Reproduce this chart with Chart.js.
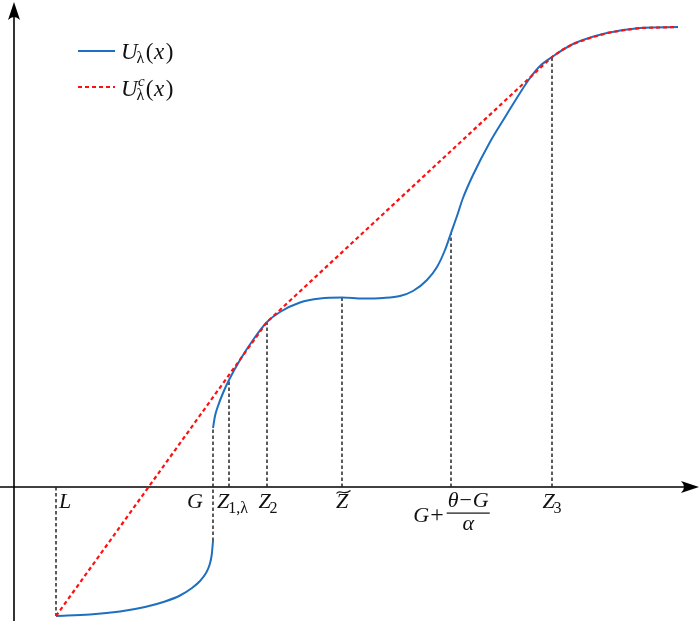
<!DOCTYPE html>
<html><head><meta charset="utf-8">
<script src="https://cdn.jsdelivr.net/npm/chart.js@4"></script>
<style>html,body{margin:0;padding:0;background:#fff}#c{display:block}</style>
</head><body>
<canvas id="c" width="700" height="621"></canvas>
<script>
// ---- data (x in horizontal units, y measured from the x-axis) ----
const lowerX = [56, 90, 120, 145, 165, 180, 192, 200, 206, 209.5, 211.7, 213];
const lowerY = [-129, -127.5, -124.5, -120, -114.5, -108.5, -101, -94, -86, -78, -68, -54];
const upperX = [213, 215, 218, 223, 229, 240, 253, 267, 280, 300, 320, 342, 363, 383, 400, 413, 427, 437, 445, 451, 457, 463, 473, 490, 507, 520, 530, 540, 552, 573, 607, 640, 678];
const upperY = [59, 71, 81, 94, 107, 127, 147, 165, 175, 184.5, 188.5, 189.5, 188.5, 189, 191, 196, 207, 220, 237, 254, 271, 289, 312, 345, 373, 394, 409, 421, 430, 443, 454, 459, 460];
const hullX = [56, 267, 552, 562, 573, 590, 607, 625, 640, 660, 678];
const hullY = [-129, 165, 430, 437, 443, 449, 454, 457, 459, 459.5, 460];
const guideX = [56, 213, 229, 267, 342, 451, 552];
const guideFrom = [0, -54, 0, 0, 0, 0, 0];
const guideTo = [-129, 59, 107, 165, 189.5, 254, 430];
const tickNames = ['L', 'G', 'Z_{1,λ}', 'Z_2', 'Z̃', 'G+(θ−G)/α', 'Z_3'];
const seriesNames = ['U_λ(x)', 'U^c_λ(x)'];

const pts = (xs, ys) => xs.map((x, i) => ({x, y: ys[i]}));

const BLUE = '#1f6fc0', RED = '#ff1010';
const datasets = [
  {label: seriesNames[1], data: pts(hullX, hullY), borderColor: RED, borderWidth: 2.2, borderDash: [4, 3], tension: 0, pointRadius: 0, order: 0},
  {label: seriesNames[0], data: pts(upperX, upperY), borderColor: BLUE, borderWidth: 2, cubicInterpolationMode: 'monotone', pointRadius: 0, order: 1},
  {label: seriesNames[0], data: pts(lowerX, lowerY), borderColor: BLUE, borderWidth: 2, cubicInterpolationMode: 'monotone', pointRadius: 0, order: 1},
];
guideX.forEach((gx, i) => datasets.push({
  label: 'guide', data: [{x: gx, y: guideFrom[i]}, {x: gx, y: guideTo[i]}],
  borderColor: '#262626', borderWidth: 1.5, borderDash: [3.5, 2.5], pointRadius: 0, tension: 0, order: 2
}));

const IT = s => `italic ${s}px "Liberation Serif"`;
const RM = s => `${s}px "Liberation Serif"`;
function tokW(ctx, toks) {
  let w = 0;
  toks.forEach(t => { ctx.font = t.f; const tw = ctx.measureText(t.s).width; if (!t.stack) w += tw + (t.sp || 0); });
  return w;
}
function drawToks(ctx, toks, x, y, align) {
  const w = tokW(ctx, toks);
  let cx = align === 'center' ? x - w / 2 : align === 'right' ? x - w : x;
  ctx.textAlign = 'left'; ctx.textBaseline = 'alphabetic'; ctx.fillStyle = '#111';
  toks.forEach(t => {
    ctx.font = t.f;
    ctx.fillText(t.s, cx + (t.dx || 0), y + (t.dy || 0));
    if (!t.stack) cx += ctx.measureText(t.s).width + (t.sp || 0);
  });
  return w;
}
const labelToks = [
  [{s: 'L', f: IT(22)}],
  [{s: 'G', f: IT(22)}],
  [{s: 'Z', f: IT(22), sp: -1}, {s: '1,λ', f: RM(16), dy: 5}],
  [{s: 'Z', f: IT(22), sp: -1}, {s: '2', f: RM(16), dy: 5}],
  [{s: 'Z', f: IT(22)}],
  null,
  [{s: 'Z', f: IT(22), sp: -1}, {s: '3', f: RM(16), dy: 5}],
];
const labelPlace = [
  {dx: 3, align: 'left'}, {dx: -10, align: 'right'}, {dx: -12, align: 'left'},
  {dx: 1, align: 'center'}, {dx: 0, align: 'center'}, {dx: 0, align: 'center'}, {dx: 0, align: 'center'}
];

const decor = {
  id: 'decor',
  beforeDatasetsDraw(chart) {
    const {ctx, scales: {x, y}} = chart;
    const ax = x.getPixelForValue(14), ay = y.getPixelForValue(0);
    ctx.save();
    ctx.strokeStyle = '#000'; ctx.fillStyle = '#000'; ctx.lineWidth = 1.6;
    ctx.beginPath(); ctx.moveTo(ax, 621); ctx.lineTo(ax, 10); ctx.stroke();
    ctx.beginPath(); ctx.moveTo(0, ay); ctx.lineTo(690, ay); ctx.stroke();
    // arrowheads
    ctx.beginPath(); ctx.moveTo(ax, 2); ctx.lineTo(ax - 6, 20); ctx.quadraticCurveTo(ax, 14, ax + 6, 20); ctx.closePath(); ctx.fill();
    ctx.beginPath(); ctx.moveTo(699, ay); ctx.lineTo(681, ay - 6); ctx.quadraticCurveTo(687, ay, 681, ay + 6); ctx.closePath(); ctx.fill();
    ctx.restore();
  },
  afterDraw(chart) {
    const {ctx, scales: {x}} = chart;
    ctx.save();
    const base = 508;
    guideX.forEach((gv, i) => {
      const gx = x.getPixelForValue(gv);
      const p = labelPlace[i];
      if (labelToks[i]) {
        drawToks(ctx, labelToks[i], gx + p.dx, base, p.align);
        if (i === 4) { // tilde
          const cx = gx + p.dx + 1.5, ty = 492;
          ctx.strokeStyle = '#111'; ctx.lineWidth = 1.2;
          ctx.beginPath(); ctx.moveTo(cx - 7, ty + 1.5);
          ctx.bezierCurveTo(cx - 3, ty - 3.5, cx + 0, ty + 4.5, cx + 7, ty - 1.5); ctx.stroke();
        }
      } else {
        // G + (θ−G)/α
        const num = [{s: 'θ', f: IT(22), sp: 1}, {s: '−', f: RM(22), sp: 1}, {s: 'G', f: IT(22)}];
        const den = [{s: 'α', f: IT(22)}];
        const pre = [{s: 'G', f: IT(22), sp: 1}, {s: '+', f: RM(24), sp: 2}];
        const wn = tokW(ctx, num), wp = tokW(ctx, pre);
        const total = wp + wn + 2;
        const left = gx + p.dx - total / 2;
        drawToks(ctx, pre, left, 522, 'left');
        const fl = left + wp + 1;
        drawToks(ctx, num, fl + 1, 507, 'left');
        ctx.fillStyle = '#111'; ctx.fillRect(fl, 512.5, wn + 2, 1.2);
        drawToks(ctx, den, fl + 1 + wn / 2, 530, 'center');
      }
    });
    // legend
    ctx.lineWidth = 2; ctx.strokeStyle = BLUE; ctx.setLineDash([]);
    ctx.beginPath(); ctx.moveTo(78, 51); ctx.lineTo(115, 51); ctx.stroke();
    ctx.lineWidth = 2.2; ctx.strokeStyle = RED; ctx.setLineDash([4, 3]);
    ctx.beginPath(); ctx.moveTo(78, 87); ctx.lineTo(115, 87); ctx.stroke();
    ctx.setLineDash([]);
    drawToks(ctx, [{s: 'U', f: IT(23), sp: -1}, {s: 'λ', f: RM(16), dy: 4, sp: 1.5}, {s: '(', f: RM(23), sp: 0.5}, {s: 'x', f: IT(23), sp: 1.5}, {s: ')', f: RM(23)}], 121, 59, 'left');
    drawToks(ctx, [{s: 'U', f: IT(23), sp: -1}, {s: 'c', f: IT(15), dy: -10, stack: true, dx: 1.5}, {s: 'λ', f: RM(16), dy: 4, sp: 1.5}, {s: '(', f: RM(23), sp: 0.5}, {s: 'x', f: IT(23), sp: 1.5}, {s: ')', f: RM(23)}], 121, 96, 'left');
    ctx.restore();
  }
};

new Chart(document.getElementById('c'), {
  type: 'line',
  data: {datasets},
  options: {
    responsive: false, animation: false, devicePixelRatio: 1,
    layout: {padding: 0},
    plugins: {legend: {display: false}, tooltip: {enabled: false}},
    scales: {
      x: {type: 'linear', min: 0, max: 700, display: false},
      y: {type: 'linear', min: -134, max: 487, display: false}
    }
  },
  plugins: [decor]
});
</script>
</body></html>
